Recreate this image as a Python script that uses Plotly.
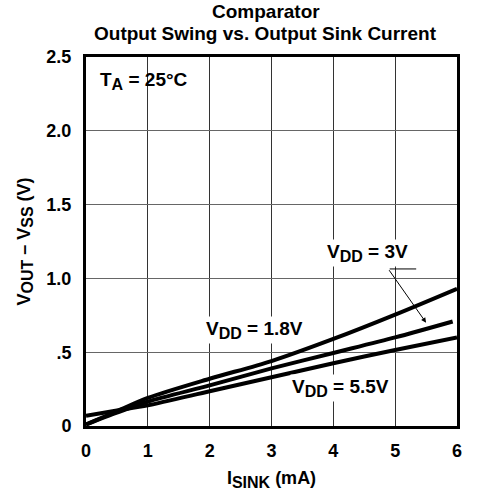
import plotly.graph_objects as go

# Data
x_18 = [0, 0.5, 1, 2, 3, 4, 5, 6]
y_18 = [0.01, 0.10, 0.19, 0.32, 0.44, 0.59, 0.755, 0.93]
x_30 = [0, 0.5, 1, 2, 3, 4, 5, 5.93]
y_30 = [0.01, 0.09, 0.165, 0.275, 0.39, 0.495, 0.60, 0.708]
x_55 = [0, 0.5, 1, 2, 3, 4, 5, 6]
y_55 = [0.07, 0.105, 0.14, 0.235, 0.33, 0.425, 0.515, 0.60]

x_ticks = [0, 1, 2, 3, 4, 5, 6]
x_ticktext = ["0", "1", "2", "3", "4", "5", "6"]
y_ticks = [0, 0.5, 1.0, 1.5, 2.0, 2.5]
y_ticktext = ["0", ".5", "1.0", "1.5", "2.0", "2.5"]

FONT = "Liberation Sans, Arial, sans-serif"
SUB = "<sub><span style='font-size:16px'>%s</span></sub>"

fig = go.Figure()
for xs, ys, name in [(x_18, y_18, "VDD = 1.8V"), (x_30, y_30, "VDD = 3V"), (x_55, y_55, "VDD = 5.5V")]:
    fig.add_trace(go.Scatter(x=xs, y=ys, mode="lines", name=name,
                             line=dict(color="black", width=4, shape="spline", smoothing=0.8),
                             showlegend=False))

fig.update_layout(
    width=485, height=491,
    margin=dict(l=86, r=28, t=57, b=65),
    paper_bgcolor="white", plot_bgcolor="white",
    font=dict(family=FONT, size=19, color="black", weight="bold"),
    xaxis=dict(range=[0, 6], tickvals=x_ticks, ticktext=x_ticktext,
               showgrid=True, gridcolor="#333", gridwidth=1,
               showline=True, linecolor="black", linewidth=3, mirror=True,
               ticks="", zeroline=False, automargin=False, ticklabelstandoff=6,
               tickfont=dict(family=FONT, size=18, weight="bold"),
               title=dict(text="I" + SUB % "SINK" + " (mA)", standoff=16,
                          font=dict(family=FONT, size=18, weight="bold"))),
    yaxis=dict(range=[0, 2.5], tickvals=y_ticks, ticktext=y_ticktext,
               showgrid=True, gridcolor="#666", gridwidth=1,
               showline=True, linecolor="black", linewidth=3, mirror=True,
               ticks="", zeroline=False, ticklabelstandoff=8, automargin=False,
               tickfont=dict(family=FONT, size=18, weight="bold"),
               title=dict(text="V" + SUB % "OUT" + " – V" + SUB % "SS" + " (V)", standoff=12,
                          font=dict(family=FONT, size=18, weight="bold"))),
)

title_font = dict(family=FONT, size=19, color="black", weight="bold")
fig.add_annotation(xref="paper", yref="paper", x=0.485, y=1.122, text="Comparator",
                   showarrow=False, font=title_font, yanchor="middle")
fig.add_annotation(xref="paper", yref="paper", x=0.485, y=1.063,
                   text="Output Swing vs. Output Sink Current",
                   showarrow=False, font=title_font, yanchor="middle")

ann_font = dict(family=FONT, size=19, color="black", weight="bold")
fig.add_annotation(x=0.2, y=2.34, text="T" + SUB % "A" + " = 25°C", showarrow=False,
                   xanchor="left", font=ann_font)
fig.add_annotation(x=2.72, y=0.65, text="V" + SUB % "DD" + " = 1.8V", showarrow=False,
                   bgcolor="white", font=ann_font)
fig.add_annotation(x=4.11, y=0.26, text="V" + SUB % "DD" + " = 5.5V", showarrow=False,
                   bgcolor="white", font=ann_font)
fig.add_annotation(x=4.55, y=1.17, text="V" + SUB % "DD" + " = 3V", showarrow=False,
                   bgcolor="white", font=ann_font)
# arrow from label leader to 3V curve
fig.add_annotation(x=5.5, y=0.70, text="", showarrow=True, arrowhead=2,
                   arrowsize=1, arrowwidth=1, arrowcolor="black",
                   axref="pixel", ayref="pixel", ax=-38, ay=-54)
fig.add_annotation(x=5.34, y=1.064, text="", showarrow=True, arrowhead=0,
                   arrowwidth=1, arrowcolor="black",
                   axref="pixel", ayref="pixel", ax=-28, ay=0)

fig.write_html("out.html", config={"displayModeBar": False},
               post_script="document.body.style.margin='0';document.body.style.overflow='hidden';")
